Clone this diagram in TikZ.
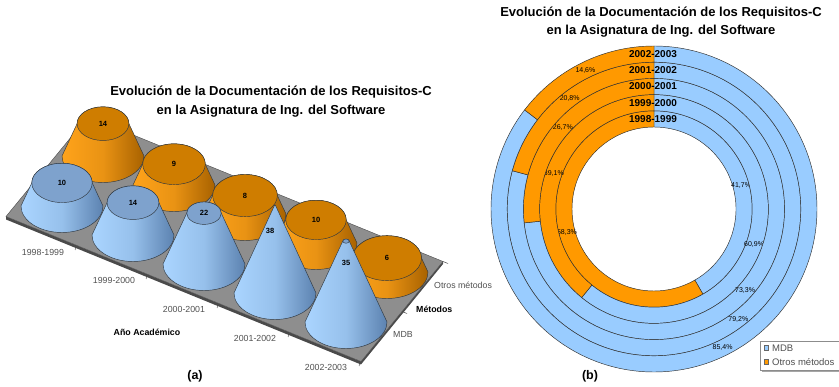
\documentclass[tikz,border=0pt]{standalone}
\usepackage{fontspec}
\setmainfont{Liberation Sans}
\definecolor{mdbblue}{HTML}{99CCFF}
\definecolor{otrosorange}{HTML}{FF9900}
\definecolor{bluelight}{HTML}{AAD5FF}
\definecolor{bluedark}{HTML}{5C82B0}
\definecolor{bluetop}{HTML}{7EA2CD}
\definecolor{orangelight}{HTML}{FFA31A}
\definecolor{orangedark}{HTML}{A86200}
\definecolor{orangetop}{HTML}{CF7D00}
\definecolor{floorgray}{HTML}{8E8E8E}
\definecolor{flooredge}{HTML}{4A4A4A}
\definecolor{coneedge}{HTML}{303840}
\definecolor{ringedge}{HTML}{2E2E2E}
\definecolor{axistext}{HTML}{505050}

\tikzset{
  charttitle/.style={font=\bfseries\fontsize{13}{15}\selectfont, inner sep=0pt},
  sublabel/.style={font=\bfseries\fontsize{12.5}{14}\selectfont, inner sep=0pt},
  axislabel/.style={font=\fontsize{8.8}{10}\selectfont, text=axistext, inner sep=0pt},
  axistitle/.style={font=\bfseries\fontsize{8.8}{10}\selectfont, inner sep=0pt},
  valuelabel/.style={font=\bfseries\fontsize{7.5}{9}\selectfont, inner sep=0pt},
  yearlabel/.style={font=\bfseries\fontsize{10}{12}\selectfont, inner sep=0pt},
  pctlabel/.style={font=\fontsize{7}{8}\selectfont, inner sep=0pt},
  legendtext/.style={font=\fontsize{9.5}{11}\selectfont, text=axistext, inner sep=0pt, anchor=west},
  segment/.style={draw=ringedge, line width=0.45pt},
  tickmark/.style={draw=flooredge, line width=0.5pt},
}

% Truncated cone standing on the floor: base centre (#1,#2), value #3,
% side shading #4 -> #5, top colour #6, name of the top centre #7
\newcommand\conebar[7]{%
  \pgfmathsetmacro\ctop{#2-2.31*#3}%
  \pgfmathsetmacro\crx{max(41*(1-#3/38),0.4)}%
  \pgfmathsetmacro\cry{0.65*\crx}%
  \path[left color=#4, right color=#5, middle color=#4!75!#5, draw=coneedge, line width=0.45pt]
    (#1-41,#2) arc[start angle=180, end angle=0, x radius=41, y radius=26.5]
    -- (#1+\crx,\ctop) arc[start angle=0, end angle=-180, x radius=\crx, y radius=\cry] -- cycle;
  \path[fill=#6, draw=coneedge, line width=0.45pt] (#1,\ctop) ellipse[x radius=\crx, y radius=\cry];
  \coordinate (#7) at (#1,\ctop);
}

\begin{document}
\begin{tikzpicture}[x=1pt, y=-1pt]
\useasboundingbox (0,0) rectangle (839,387);

% ---------------- (a) cone chart ----------------
\node[charttitle] (ta1) at (271,92) {Evolución de la Documentación de los Requisitos-C};
\node[charttitle] (ta2) at (271,111) {en la Asignatura de Ing. del Software};

% floor slab
\path[fill=flooredge] (6,216.5) -- (361,361.5) -- (443,261.5) -- (443,264) -- (361,364.5) -- (6,219.5) -- cycle;
\path[fill=floorgray, draw=flooredge, line width=0.4pt] (6,216.5) -- (361,361.5) -- (443,261.5) -- (88,116.5) -- cycle;

% category ticks
\foreach \tx/\ty in {77/245.5, 148/274.5, 219/303.5, 290/332.5, 361/361.5}
  \draw[tickmark] (\tx,\ty) -- ++(-2,4.5);
\draw[tickmark] (402,311.5) -- ++(5,2);
\draw[tickmark] (443,261.5) -- ++(5,2);

% back row: otros metodos
\conebar{103}{156}{14}{orangelight}{orangedark}{orangetop}{o1}
\conebar{174}{185}{9}{orangelight}{orangedark}{orangetop}{o2}
\conebar{245}{214}{8}{orangelight}{orangedark}{orangetop}{o3}
\conebar{316}{243}{10}{orangelight}{orangedark}{orangetop}{o4}
\conebar{387}{272}{6}{orangelight}{orangedark}{orangetop}{o5}
% front row: MDB
\conebar{62}{206}{10}{bluelight}{bluedark}{bluetop}{b1}
\conebar{133}{235}{14}{bluelight}{bluedark}{bluetop}{b2}
\conebar{204}{264}{22}{bluelight}{bluedark}{bluetop}{b3}
\conebar{275}{293}{38}{bluelight}{bluedark}{bluetop}{b4}
\conebar{346}{322}{35}{bluelight}{bluedark}{bluetop}{b5}

% values
\node[valuelabel] (vo1) at (o1) {14};
\node[valuelabel] (vo2) at (o2) {9};
\node[valuelabel] (vo3) at (o3) {8};
\node[valuelabel] (vo4) at (o4) {10};
\node[valuelabel] (vo5) at (o5) {6};
\node[valuelabel] (vb1) at (b1) {10};
\node[valuelabel] (vb2) at (b2) {14};
\node[valuelabel] (vb3) at (b3) {22};
\node[valuelabel] (vb4) at (270,231) {38};
\node[valuelabel] (vb5) at (346,263) {35};

% axes
\node[axislabel] (y1) at (43,252) {1998-1999};
\node[axislabel] (y2) at (114,280) {1999-2000};
\node[axislabel] (y3) at (184,309) {2000-2001};
\node[axislabel] (y4) at (255,338) {2001-2002};
\node[axislabel] (y5) at (326,367) {2002-2003};
\node[axistitle] (xt) at (147,332) {Año Académico};
\node[axislabel, anchor=west] (s1) at (393,334) {MDB};
\node[axislabel, anchor=west] (s2) at (434,285) {Otros métodos};
\node[axistitle, anchor=west] (st) at (416,309) {Métodos};

\node[sublabel] (la) at (195,376) {(a)};

% ---------------- (b) ring chart ----------------
\node[charttitle] (tb1) at (661,13) {Evolución de la Documentación de los Requisitos-C};
\node[charttitle] (tb2) at (661,31) {en la Asignatura de Ing. del Software};

\begin{scope}[shift={(654,209)}, yscale=-1]
  \foreach \i/\f/\bl/\ol/\yr in {0/0.417/{41,7\%}/{58,3\%}/1998-1999,
                                  1/0.609/{60,9\%}/{39,1\%}/1999-2000,
                                  2/0.733/{73,3\%}/{26,7\%}/2000-2001,
                                  3/0.792/{79,2\%}/{20,8\%}/2001-2002,
                                  4/0.854/{85,4\%}/{14,6\%}/2002-2003}{
    \pgfmathsetmacro\ri{82+16.2*\i}
    \pgfmathsetmacro\ro{\ri+16.2}
    \pgfmathsetmacro\rmid{\ri+8.1}
    \pgfmathsetmacro\ea{90-360*\f}
    \pgfmathsetmacro\bm{90-180*\f}
    \pgfmathsetmacro\om{(\ea-270)/2}
    \path[segment, fill=mdbblue] (90:\ro) arc[start angle=90, end angle=\ea, radius=\ro]
      -- (\ea:\ri) arc[start angle=\ea, end angle=90, radius=\ri] -- cycle;
    \path[segment, fill=otrosorange] (\ea:\ro) arc[start angle=\ea, end angle=-270, radius=\ro]
      -- (-270:\ri) arc[start angle=-270, end angle=\ea, radius=\ri] -- cycle;
    \node[pctlabel] (pb\i) at (\bm:\rmid) {\bl};
    \node[pctlabel] (po\i) at (\om:\rmid) {\ol};
    \node[yearlabel] (yr\i) at (-1,\rmid) {\yr};
  }
\end{scope}

% legend
\path[fill=black!35] (762,343) rectangle (842,372);
\path[fill=white, draw=black!45, line width=0.5pt] (760,341) rectangle (840,370);
\path[fill=mdbblue, draw=black!60, line width=0.4pt] (764,345.5) rectangle (768.5,350);
\node[legendtext] (lg1) at (772,348) {MDB};
\path[fill=otrosorange, draw=black!60, line width=0.4pt] (764,359.5) rectangle (768.5,364);
\node[legendtext] (lg2) at (772,362) {Otros métodos};

\node[sublabel] (lb) at (590,376) {(b)};
\end{tikzpicture}
\end{document}
